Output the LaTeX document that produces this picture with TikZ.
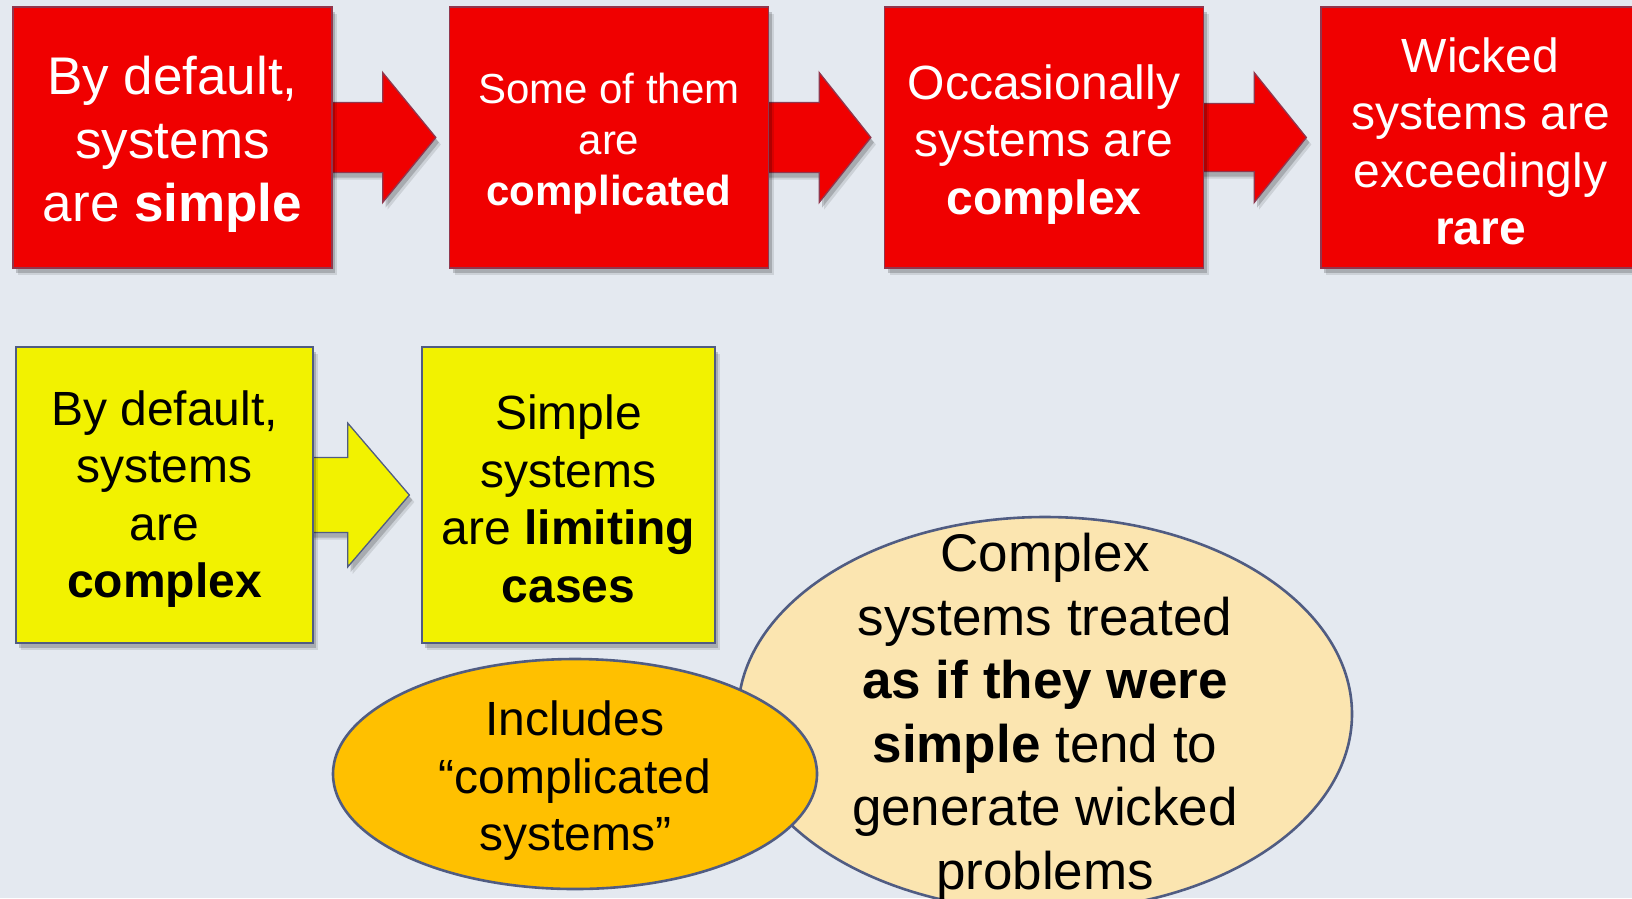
\documentclass[tikz,border=0pt]{standalone}
\usepackage{fontspec}
\setmainfont{Liberation Sans}
\usetikzlibrary{shapes.geometric,calc,shadows}

\definecolor{boxred}{HTML}{F00000}
\definecolor{boxyellow}{HTML}{F2F200}
\definecolor{ovalorange}{HTML}{FFC000}
\definecolor{ovalcream}{HTML}{FBE5B0}
\definecolor{edgeslate}{HTML}{505C82}
\definecolor{bgpaper}{HTML}{E4E9F0}

\pgfdeclarelayer{under}
\pgfsetlayers{under,main}

\tikzset{
  soft shade/.style={
    drop shadow={shadow xshift=5pt, shadow yshift=-7pt, opacity=0.10, fill=black},
    drop shadow={shadow xshift=3pt, shadow yshift=-5pt, opacity=0.18, fill=black}},
  card/.style={rectangle, inner sep=0pt, line width=1.3pt, soft shade},
  redbox/.style={card, fill=boxred, draw=edgeslate!60!boxred,
      minimum width=319pt, minimum height=261pt},
  yellowbox/.style={card, fill=boxyellow, draw=edgeslate, minimum height=296pt},
  redarrow/.style={fill=boxred, draw=edgeslate!60!boxred, line width=1.3pt, soft shade},
  yellowarrow/.style={fill=boxyellow, draw=edgeslate, line width=1.3pt, soft shade},
  oval/.style={ellipse, inner sep=0pt, draw=edgeslate, line width=2.6pt},
  words/.style={inner sep=0pt, align=center},
  big/.style={font=\fontsize{53}{63.5}\selectfont},
  mid/.style={font=\fontsize{48}{57.5}\selectfont},
  small/.style={font=\fontsize{42}{51}\selectfont},
}

% block arrow from the east side of #1 towards the west side of #2
% #3 shaft half height, #4 head half height, #5 head start, #6 gap before #2
\newcommand\blockarrow[7]{%
  \path[#7]
    ($(#1.east)+(-8,-#3)$) -- ($(#1.east)+(#5,-#3)$) -- ($(#1.east)+(#5,-#4)$)
    -- ($(#1.east -| #2.west)+(-#6,0)$)
    -- ($(#1.east)+(#5,#4)$) -- ($(#1.east)+(#5,#3)$) -- ($(#1.east)+(-8,#3)$) -- cycle;}

\begin{document}
\begin{tikzpicture}[x=1pt,y=-1pt]
\useasboundingbox (0,0) rectangle (1632,898);
\clip (0,0) rectangle (1632,898);

\begin{pgfonlayer}{under}
  \fill[bgpaper] (0,0) rectangle (1632,898);
\end{pgfonlayer}

% top row
\node[redbox] (r1) at (172.5,137.5) {};
\node[redbox] (r2) at (609,137.5) {};
\node[redbox] (r3) at (1044,137.5) {};
\node[redbox] (r4) at (1480.5,137.5) {};
\node[words, big, text=white] (r1t) at ([yshift=-7pt]r1.center) {By default,\\systems\\are \textbf{simple}};
\node[words, small, text=white] (r2t) at ([yshift=-6pt]r2.center) {Some of them\\are\\\textbf{complicated}};
\node[words, mid, text=white] (r3t) at ([yshift=-7pt]r3.center) {Occasionally\\systems are\\\textbf{complex}};
\node[words, mid, text=white] (r4t) at ([yshift=-4pt]r4.center) {Wicked\\systems are\\exceedingly\\\textbf{rare}};

% second row
\node[yellowbox, minimum width=297pt] (y1) at (164.5,495) {};
\node[yellowbox, minimum width=293pt] (y2) at (568.5,495) {};
\node[words, mid] (y1t) at ([yshift=-4pt]y1.center) {By default,\\systems\\are\\\textbf{complex}};
\node[words, mid] (y2t) at ([yshift=-4pt]y2.center) {Simple\\systems\\are \textbf{limiting}\\\textbf{cases}};

\begin{pgfonlayer}{under}
  \blockarrow{r1}{r2}{35}{65}{50}{13}{redarrow}
  \blockarrow{r2}{r3}{35}{65}{50}{13}{redarrow}
  \blockarrow{r3}{r4}{34}{65}{50}{14}{redarrow}
  \blockarrow{y1}{y2}{37.5}{72}{34}{12}{yellowarrow}
\end{pgfonlayer}

% ovals
\node[oval, fill=ovalcream, minimum width=614pt, minimum height=394pt] (e2) at (1045,714) {};
\node[words, big] (e2t) at ([yshift=-3pt]e2.center) {Complex\\systems treated\\\textbf{as if they were}\\\textbf{simple} tend to\\generate wicked\\problems};
\node[oval, fill=ovalorange, minimum width=484pt, minimum height=230pt] (e1) at (575,774) {};
\node[words, mid] (e1t) at ([yshift=-7pt]e1.center) {Includes\\“complicated\\systems”};
\end{tikzpicture}
\end{document}
